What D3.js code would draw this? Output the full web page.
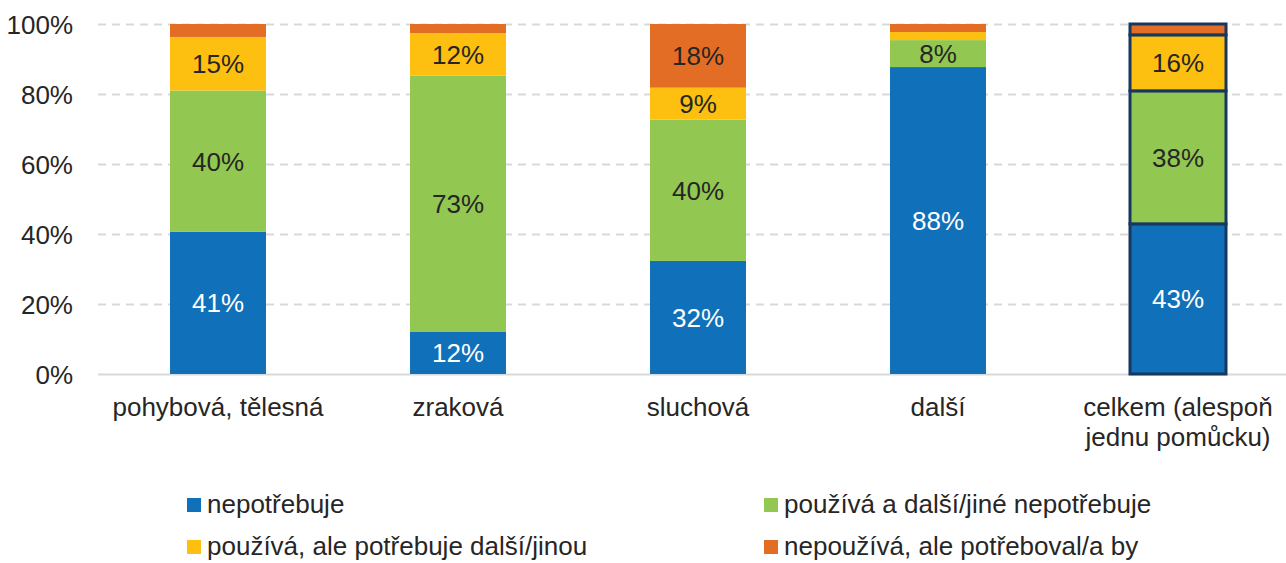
<!DOCTYPE html>
<html>
<head>
    <meta charset="utf-8">
    <style>
        body { margin: 0; background: #fff; }
        svg { display: block; font-family: "Liberation Sans", Arial, sans-serif; }
        .y .tick text { font-size: 26px; fill: #262626; }
        .y .domain { display: none; }
        .y .tick line { stroke: #d9d9d9; stroke-width: 2px; stroke-dasharray: 8 6; }
    </style>
</head>
<body>
<svg width="1286" height="563"></svg>
<script src="https://d3js.org/d3.v7.min.js"></script>
<script>
    // categories and series (percent)
    const categories = ["pohybová, tělesná", "zraková", "sluchová", "další", "celkem (alespoň|jednu pomůcku)"]
    const seriesNames = ["nepotřebuje", "používá a další/jiné nepotřebuje", "používá, ale potřebuje další/jinou", "nepoužívá, ale potřeboval/a by"]
    const nepotrebuje = [40.6, 12.0, 32.3, 87.7, 42.9]
    const pouzivaDalsiNe = [40.4, 73.3, 40.4, 7.7, 38.0]
    const pouzivaPotrebuje = [15.3, 12.1, 9.1, 2.3, 16.0]
    const nepouzivaPotreboval = [3.7, 2.6, 18.2, 2.3, 3.1]
    const yTicks = [0, 20, 40, 60, 80, 100]

    const colors = ["#1170ba", "#92c851", "#fdc010", "#e46d25"]
    const labelColors = ["#ffffff", "#262626", "#262626", "#262626"]
    const fontSize = "26px"

    const svg = d3.select("svg")
    const margin = { left: 98, right: 1286, top: 24, bottom: 374 }

    let x = d3.scaleBand()
        .domain(categories)
        .range([margin.left, 1298])
        .paddingInner(0.6)
        .paddingOuter(0.3)

    let y = d3.scaleLinear()
        .domain([0, 100])
        .range([margin.bottom, margin.top])

    // grid + tick labels
    let yAxis = d3.axisLeft(y)
        .tickValues(yTicks)
        .tickFormat(d => d + "%")
        .tickSize(-(margin.right - margin.left))
        .tickPadding(25)

    let yg = svg.append("g")
        .attr("class", "y axis")
        .attr("transform", `translate(${margin.left},0)`)
        .call(yAxis)
    yg.selectAll(".tick text").attr("dy", "0.36em")
    yg.selectAll(".tick").filter(d => d === 0).select("line")
        .style("stroke-dasharray", "none")

    // stack the data
    const rows = categories.map((c, i) => ({
        cat: c,
        s0: nepotrebuje[i], s1: pouzivaDalsiNe[i], s2: pouzivaPotrebuje[i], s3: nepouzivaPotreboval[i]
    }))
    const stack = d3.stack().keys(["s0", "s1", "s2", "s3"])(rows)

    const layers = svg.append("g")
        .selectAll("g")
        .data(stack)
        .join("g")
        .attr("fill", (d, i) => colors[i])

    layers.selectAll("rect")
        .data(d => d)
        .join("rect")
        .attr("x", d => x(d.data.cat))
        .attr("width", x.bandwidth())
        .attr("y", d => y(d[1]))
        .attr("height", d => y(d[0]) - y(d[1]))
        .attr("stroke", d => d.data.cat.startsWith("celkem") ? "#17375e" : "none")
        .attr("stroke-width", 3)

    // data labels
    stack.forEach((layer, i) => {
        svg.append("g")
            .selectAll("text")
            .data(layer.filter(d => d[1] - d[0] >= 5))
            .join("text")
            .attr("x", d => x(d.data.cat) + x.bandwidth() / 2)
            .attr("y", d => y((d[0] + d[1]) / 2))
            .attr("dy", "0.36em")
            .attr("text-anchor", "middle")
            .style("font-size", fontSize)
            .attr("fill", labelColors[i])
            .text(d => Math.round(d[1] - d[0]) + "%")
    })

    // category labels
    const catLabels = svg.append("g")
        .selectAll("text")
        .data(categories)
        .join("text")
        .attr("x", d => x(d) + x.bandwidth() / 2)
        .attr("y", 416)
        .attr("text-anchor", "middle")
        .style("font-size", fontSize)
        .attr("fill", "#262626")
    catLabels.selectAll("tspan")
        .data(d => d.split("|"))
        .join("tspan")
        .attr("x", function () { return d3.select(this.parentNode).attr("x") })
        .attr("dy", (d, i) => i === 0 ? 0 : 30)
        .text(d => d)

    // legend
    const legendPos = [[187, 504], [764, 504], [187, 546], [764, 546]]
    const legend = svg.append("g")
        .selectAll("g")
        .data(seriesNames)
        .join("g")
        .attr("transform", (d, i) => `translate(${legendPos[i][0]},${legendPos[i][1]})`)
    legend.append("rect")
        .attr("x", 0).attr("y", -6)
        .attr("width", 14).attr("height", 14)
        .attr("fill", (d, i) => colors[i])
    legend.append("text")
        .attr("x", 20)
        .attr("dy", "0.36em")
        .style("font-size", fontSize)
        .attr("fill", "#262626")
        .text(d => d)
</script>
</body>
</html>
